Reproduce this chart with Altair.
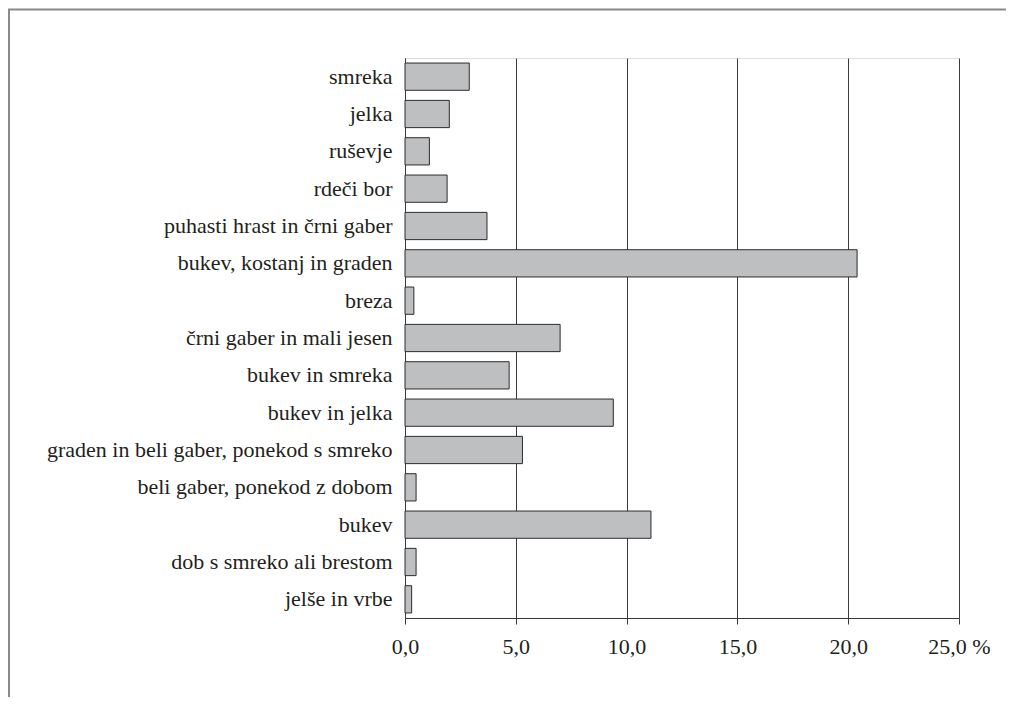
import altair as alt
import pandas as pd

categories = [
    "smreka", "jelka", "ruševje", "rdeči bor", "puhasti hrast in črni gaber",
    "bukev, kostanj in graden", "breza", "črni gaber in mali jesen",
    "bukev in smreka", "bukev in jelka", "graden in beli gaber, ponekod s smreko",
    "beli gaber, ponekod z dobom", "bukev", "dob s smreko ali brestom", "jelše in vrbe",
]
values = [2.9, 2.0, 1.1, 1.9, 3.7, 20.4, 0.4, 7.0, 4.7, 9.4, 5.3, 0.5, 11.1, 0.5, 0.3]
x_ticks = [0, 5, 10, 15, 20, 25]

df = pd.DataFrame({"cat": categories, "val": values})

FONT = "Liberation Serif, Times New Roman, serif"

bars = alt.Chart(df).mark_bar(
    fill="#bebfc1", stroke="#2b2b2b", strokeWidth=1
).encode(
    x=alt.X(
        "val:Q",
        scale=alt.Scale(domain=[0, 25], nice=False),
        axis=alt.Axis(
            values=x_ticks, title=None, grid=True, gridColor="#3a3a3a", gridWidth=1,
            domainColor="#3a3a3a", tickColor="#3a3a3a", tickSize=6, labelFlush=False,
            labelFont=FONT, labelFontSize=22, labelColor="#231f20", labelPadding=12,
            labelExpr="replace(format(datum.value, '.1f'), '.', ',') + (datum.value == 25 ? ' %' : '')",
        ),
    ),
    y=alt.Y(
        "cat:N", sort=categories,
        scale=alt.Scale(paddingInner=0.27, paddingOuter=0.135),
        axis=alt.Axis(
            title=None, ticks=False, domainColor="#3a3a3a", labelFont=FONT,
            labelFontSize=22, labelColor="#231f20", labelPadding=13, labelLimit=0,
        ),
    ),
)

frame_df = pd.DataFrame({"a": [0]})
frame_left = alt.Chart(frame_df).mark_rule(color="#8a8a8a", strokeWidth=2).encode(
    x=alt.value(-396), y=alt.value(-48.5), y2=alt.value(700)
)
frame_top = alt.Chart(frame_df).mark_rule(color="#8a8a8a", strokeWidth=2).encode(
    x=alt.value(-397), x2=alt.value(700), y=alt.value(-48.5)
)

chart = alt.layer(bars, frame_left, frame_top).properties(
    width=554, height=560,
    autosize=alt.AutoSizeParams(type="none"),
    padding={"left": 397, "top": 50, "right": 47, "bottom": 79},
).configure_view(
    stroke="#8a8a8a", strokeWidth=1
).configure(
    background="white", font=FONT
)

chart.save("out.html", embed_options={"renderer": "svg", "actions": False})
